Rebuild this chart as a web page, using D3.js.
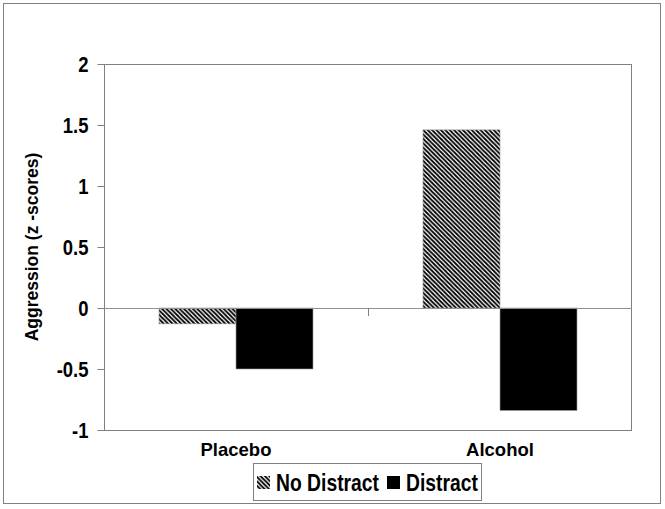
<!DOCTYPE html>
<html>
<head>
<meta charset="utf-8">
<script src="https://cdn.jsdelivr.net/npm/d3@7"></script>
<style>
  html, body { margin: 0; padding: 0; background: #fff; }
  .narrow { font-family: "Liberation Sans", Arial, sans-serif; font-weight: bold; }
  .wide { font-family: "Liberation Sans", Arial, sans-serif; font-weight: bold; }
</style>
</head>
<body>
<svg id="chart" width="665" height="509"></svg>
<script>
const categories = ["Placebo", "Alcohol"];
const seriesNames = ["No Distract", "Distract"];
const noDistract = [-0.13, 1.46];
const distract = [-0.50, -0.84];
const yTicks = [-1, -0.5, 0, 0.5, 1, 1.5, 2];
const yTitle = "Aggression (z -scores)";

const svg = d3.select("#chart");
const plot = { left: 104, right: 632, top: 64, bottom: 430 };
const SX = 0.84; // horizontal condensing for narrow text

// pattern
const defs = svg.append("defs");
const pat = defs.append("pattern")
  .attr("id", "hatch").attr("patternUnits", "userSpaceOnUse")
  .attr("width", 4.4).attr("height", 4.4);
pat.append("rect").attr("width", 4.4).attr("height", 4.4).attr("fill", "#fff");
pat.append("path")
  .attr("d", "M-1,-1 L5.4,5.4 M-1,3.4 L1,5.4 M3.4,-1 L5.4,1")
  .attr("stroke", "#000").attr("stroke-width", 1.8);

// outer border
svg.append("rect").attr("x", 3.5).attr("y", 3.5).attr("width", 657).attr("height", 500)
  .attr("fill", "#fff").attr("stroke", "#808080").attr("stroke-width", 1);

const y = d3.scaleLinear().domain([-1, 2]).range([plot.bottom, plot.top]);
const x0 = d3.scaleBand().domain(categories).range([plot.left, plot.right]).padding(0);
const x1 = d3.scaleBand().domain(seriesNames).range([55, x0.bandwidth() - 55]).padding(0);

// plot area border
svg.append("rect").attr("x", plot.left + 0.5).attr("y", plot.top + 0.5)
  .attr("width", plot.right - plot.left - 1).attr("height", plot.bottom - plot.top)
  .attr("fill", "none").attr("stroke", "#808080");

// bars
const data = categories.map((c, i) => ({ cat: c, vals: [
  { s: seriesNames[0], v: noDistract[i] },
  { s: seriesNames[1], v: distract[i] } ] }));
const fills = { "No Distract": "url(#hatch)", "Distract": "#000" };

const g = svg.append("g").selectAll("g").data(data).join("g")
  .attr("transform", d => `translate(${x0(d.cat)},0)`);
g.selectAll("rect").data(d => d.vals).join("rect")
  .attr("x", d => x1(d.s))
  .attr("width", x1.bandwidth())
  .attr("y", d => y(Math.max(0, d.v)))
  .attr("height", d => Math.abs(y(d.v) - y(0)))
  .attr("fill", d => fills[d.s])
  .attr("stroke", "#999").attr("stroke-width", 0.6);

// zero line
svg.append("line").attr("x1", plot.left).attr("x2", plot.right)
  .attr("y1", Math.round(y(0)) + 0.5).attr("y2", Math.round(y(0)) + 0.5)
  .attr("stroke", "#909090").attr("stroke-width", 1.2);
// category divider tick
svg.append("line").attr("x1", x0("Alcohol") + 0.5).attr("x2", x0("Alcohol") + 0.5)
  .attr("y1", Math.round(y(0))).attr("y2", Math.round(y(0)) + 8)
  .attr("stroke", "#808080");

// y axis
const yAxis = d3.axisLeft(y).tickValues(yTicks).tickSize(7).tickPadding(9)
  .tickFormat(d => String(d));
const ya = svg.append("g").attr("transform", `translate(${plot.left + 0.5},0)`).call(yAxis);
ya.select(".domain").remove();
ya.selectAll(".tick line").attr("stroke", "#808080");
ya.selectAll(".tick text").attr("class", "narrow").attr("font-size", 22).attr("fill", "#000")
  .attr("x", -16 / SX).attr("transform", `scale(${SX},1)`)
  .attr("dy", "0.36em");

// x labels
svg.append("g").selectAll("text").data(categories).join("text")
  .attr("class", "wide").attr("font-size", 18.5)
  .attr("x", d => x0(d) + x0.bandwidth() / 2)
  .attr("y", 456).attr("text-anchor", "middle").text(d => d);

// y title
svg.append("text").attr("class", "wide").attr("font-size", 17.5)
  .attr("transform", "translate(38,247) rotate(-90)")
  .attr("text-anchor", "middle").text(yTitle);

// legend
const lg = svg.append("g");
lg.append("rect").attr("x", 253.5).attr("y", 463.5).attr("width", 228).attr("height", 37)
  .attr("fill", "#fff").attr("stroke", "#808080");
const legendX = [257, 387];
seriesNames.forEach((s, i) => {
  lg.append("rect").attr("x", legendX[i]).attr("y", 476).attr("width", 13).attr("height", 13)
    .attr("fill", fills[s]);
  lg.append("text").attr("class", "narrow").attr("font-size", 23)
    .attr("transform", `translate(${legendX[i] + 19},491) scale(${SX},1)`)
    .text(s);
});
</script>
</body>
</html>
